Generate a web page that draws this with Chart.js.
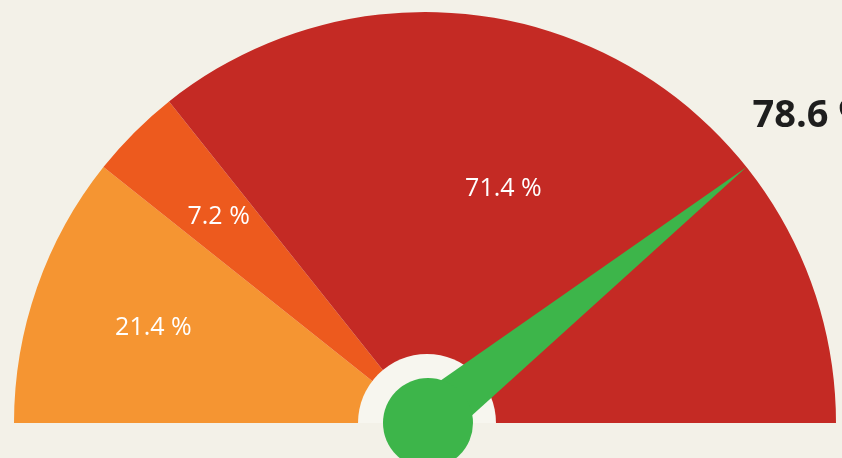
<!DOCTYPE html>
<html>
<head>
<meta charset="utf-8">
<script src="https://cdn.jsdelivr.net/npm/chart.js@4"></script>
<style>
  html, body { margin: 0; padding: 0; background: #f3f1e8; }
  #wrap { width: 842px; height: 458px; }
</style>
</head>
<body>
<div id="wrap"><canvas id="gauge" width="842" height="458"></canvas></div>
<script>
const categories = ['Low', 'Medium', 'High'];
const shares = [21.4, 7.2, 71.4];
const colors = ['#f59532', '#ed5a1e', '#c42a24'];
const needleValue = 78.6;

// where each label sits inside its slice (fraction of sweep, fraction of radius)
const labelSweep = [0.5, 0.5, 0.444];
const labelRadius = [0.7, 0.71, 0.6];

const gaugeExtras = {
  id: 'gaugeExtras',
  afterDatasetsDraw(chart) {
    const ctx = chart.ctx;
    const arcs = chart.getDatasetMeta(0).data;
    const cx = arcs[0].x, cy = arcs[0].y, r = arcs[0].outerRadius;

    // slice labels
    ctx.save();
    ctx.fillStyle = '#ffffff';
    ctx.font = '25px "Open Sans"';
    ctx.textAlign = 'center';
    ctx.textBaseline = 'middle';
    arcs.forEach((a, i) => {
      const ang = a.startAngle + (a.endAngle - a.startAngle) * labelSweep[i];
      const rr = r * labelRadius[i];
      ctx.fillText(shares[i].toFixed(1) + ' %', cx + Math.cos(ang) * rr, cy + Math.sin(ang) * rr);
    });
    ctx.restore();

    // light ring round the hub
    ctx.save();
    ctx.fillStyle = '#f7f6ef';
    ctx.beginPath();
    ctx.arc(cx + 2, cy, 69, Math.PI, 2 * Math.PI);
    ctx.closePath();
    ctx.fill();
    ctx.restore();

    // needle
    const total = shares.reduce((s, v) => s + v, 0);
    const ang = Math.PI + Math.PI * needleValue / total;
    const tipX = cx + Math.cos(ang) * r;
    const tipY = cy + Math.sin(ang) * r;
    const half = 26;
    const px = Math.cos(ang + Math.PI / 2), py = Math.sin(ang + Math.PI / 2);
    ctx.save();
    ctx.fillStyle = '#3db54a';
    ctx.beginPath();
    ctx.moveTo(cx + px * half, cy + py * half);
    ctx.lineTo(tipX, tipY);
    ctx.lineTo(cx - px * half, cy - py * half);
    ctx.closePath();
    ctx.fill();
    ctx.beginPath();
    ctx.arc(cx + 3, cy, 45, 0, 2 * Math.PI);
    ctx.fill();
    ctx.restore();

    // value text
    ctx.save();
    ctx.fillStyle = '#1e1e1e';
    ctx.font = 'bold 38px "Open Sans"';
    ctx.textAlign = 'left';
    ctx.textBaseline = 'alphabetic';
    ctx.fillText(needleValue.toFixed(1) + ' %', tipX + 6, tipY - 40);
    ctx.restore();
  }
};

new Chart(document.getElementById('gauge').getContext('2d'), {
  type: 'doughnut',
  data: {
    labels: categories,
    datasets: [{
      data: shares,
      backgroundColor: colors,
      borderWidth: 0
    }]
  },
  options: {
    responsive: false,
    animation: false,
    rotation: -90,
    circumference: 180,
    cutout: 0,
    layout: { padding: { left: 14, right: 6, top: 12, bottom: 35 } },
    plugins: {
      legend: { display: false },
      tooltip: { enabled: false }
    }
  },
  plugins: [gaugeExtras]
});
</script>
</body>
</html>
